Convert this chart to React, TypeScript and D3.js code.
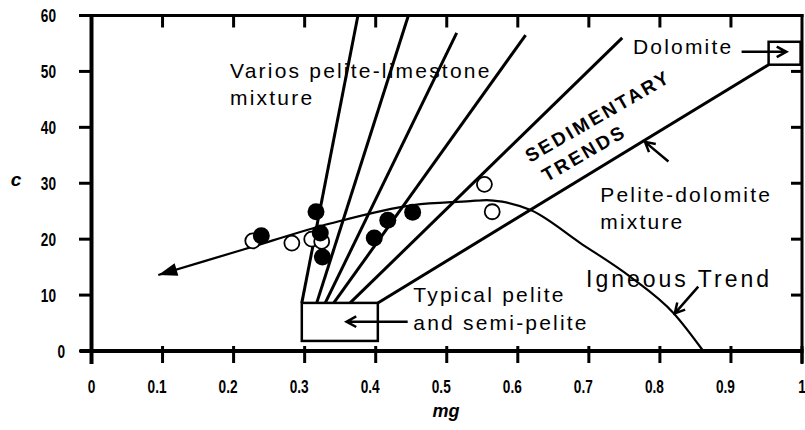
import { useEffect, useRef } from 'react';
import * as d3 from 'd3';

// axis ticks
const xTicks = [0, 0.1, 0.2, 0.3, 0.4, 0.5, 0.6, 0.7, 0.8, 0.9, 1];
const xTickLabels = ['0', '0.1', '0.2', '0.3', '0.4', '0.5', '0.6', '0.7', '0.8', '0.9', '1'];
const yTicks = [0, 10, 20, 30, 40, 50, 60];
const yTickLabels = ['0', '10', '20', '30', '40', '50', '60'];

// samples (filled = one group, open = the other)
const filledMg = [0.239, 0.316, 0.322, 0.325, 0.398, 0.417, 0.452];
const filledC = [20.6, 24.9, 21.1, 16.8, 20.2, 23.4, 24.8];
const openMg = [0.227, 0.282, 0.31, 0.324, 0.553, 0.564];
const openC = [19.7, 19.3, 20.0, 19.6, 29.8, 24.9];

// trend line running into the igneous curve
const trendMg = [0.094, 0.215, 0.336, 0.453, 0.533, 0.556, 0.578, 0.618, 0.688, 0.758, 0.819, 0.861];
const trendC = [13.6, 18.2, 22.8, 26.1, 26.8, 27.0, 26.7, 25.2, 19.3, 13.3, 6.8, 0];

// sedimentary fan: start on top of the pelite box, end up the diagram
const fanStartMg = [0.296, 0.317, 0.329, 0.341, 0.364, 0.403];
const fanStartC = [8.6, 8.6, 8.6, 8.6, 8.6, 8.6];
const fanEndMg = [0.375, 0.446, 0.514, 0.611, 0.747, 0.953];
const fanEndC = [60, 60, 56.9, 56.5, 56.0, 51.2];

// end-member boxes [mg0, mg1, c0, c1]
const peliteBox = [0.296, 0.403, 1.8, 8.6];
const dolomiteBox = [0.953, 0.998, 51.2, 55.3];

const App = () => {
  const svgRef = useRef<SVGSVGElement>(null);

  useEffect(() => {
    const width = 805;
    const height = 430;
    const x = d3.scaleLinear().domain([0, 1]).range([91.5, 802]);
    const y = d3.scaleLinear().domain([0, 60]).range([351, 15.5]);
    const font = 'Liberation Sans, Arial, Helvetica, sans-serif';

    const svg = d3.select(svgRef.current);
    svg.selectAll('*').remove();
    svg.attr('width', width).attr('height', height);
    svg.append('rect').attr('width', width).attr('height', height).attr('fill', '#fff');

    // text labels
    const label = (lines: string[], mg: number, c: number, size = 21, spacing = 2.2, gap = 27) => {
      const t = svg.append('text')
        .attr('font-family', font)
        .attr('font-size', size)
        .attr('letter-spacing', spacing)
        .attr('fill', '#000');
      lines.forEach((s, i) => {
        t.append('tspan').attr('x', x(mg)).attr('y', y(c) + i * gap).text(s);
      });
    };
    label(['Varios pelite-limestone', 'mixture'], 0.195, 48.8);
    label(['Dolomite'], 0.762, 53.1);
    label(['Pelite-dolomite', 'mixture'], 0.716, 26.7);
    label(['Typical pelite', 'and semi-pelite'], 0.453, 8.8, 21, 2.2, 28.3);
    label(['Igneous Trend'], 0.696, 11.5, 23, 3);

    const sed = svg.append('g')
      .attr('transform', `translate(${x(0.617)},${y(33.6)}) rotate(-30)`)
      .attr('font-family', font)
      .attr('font-weight', 'bold')
      .attr('font-size', 19)
      .attr('letter-spacing', 2.6);
    sed.append('text').attr('x', 0).attr('y', 0).text('SEDIMENTARY');
    sed.append('text').attr('x', 5).attr('y', 25).text('TRENDS');

    // fan lines
    fanStartMg.forEach((m, i) => {
      svg.append('line')
        .attr('x1', x(m)).attr('y1', y(fanStartC[i]))
        .attr('x2', x(fanEndMg[i])).attr('y2', y(fanEndC[i]))
        .attr('stroke', '#000').attr('stroke-width', 3);
    });

    // boxes
    [peliteBox, dolomiteBox].forEach(b => {
      svg.append('rect')
        .attr('x', x(b[0])).attr('y', y(b[3]))
        .attr('width', x(b[1]) - x(b[0])).attr('height', y(b[2]) - y(b[3]))
        .attr('fill', '#fff').attr('stroke', '#000').attr('stroke-width', 2.5);
    });

    // trend curve
    const trend = trendMg.map((m, i) => [m, trendC[i]] as [number, number]);
    const line = d3.line<[number, number]>()
      .x(d => x(d[0]))
      .y(d => y(d[1]))
      .curve(d3.curveMonotoneX);
    svg.append('path')
      .attr('d', line(trend))
      .attr('fill', 'none').attr('stroke', '#000').attr('stroke-width', 2.2);

    // filled arrow head at the left end of the trend
    const tip = [x(trend[0][0]), y(trend[0][1])];
    const back = [x(trend[1][0]), y(trend[1][1])];
    const ang = Math.atan2(tip[1] - back[1], tip[0] - back[0]);
    const hl = 19, hw = 6.5;
    const bx = tip[0] - hl * Math.cos(ang), by = tip[1] - hl * Math.sin(ang);
    svg.append('path')
      .attr('d', `M${tip[0]},${tip[1]} L${bx - hw * Math.sin(ang)},${by + hw * Math.cos(ang)} L${bx + hw * Math.sin(ang)},${by - hw * Math.cos(ang)} Z`)
      .attr('fill', '#000');

    // chevron arrows for the annotations
    const arrow = (m1: number, c1: number, m2: number, c2: number) => {
      const x1 = x(m1), y1 = y(c1), x2 = x(m2), y2 = y(c2);
      const a = Math.atan2(y2 - y1, x2 - x1);
      const len = 11, spread = 0.5;
      svg.append('path')
        .attr('d', `M${x1},${y1} L${x2},${y2} M${x2 - len * Math.cos(a - spread)},${y2 - len * Math.sin(a - spread)} L${x2},${y2} L${x2 - len * Math.cos(a + spread)},${y2 - len * Math.sin(a + spread)}`)
        .attr('fill', 'none').attr('stroke', '#000').attr('stroke-width', 2.5)
        .attr('stroke-linejoin', 'miter');
    };
    arrow(0.915, 53.5, 0.978, 53.5);
    arrow(0.445, 5.24, 0.359, 5.24);
    arrow(0.812, 33.9, 0.779, 37.4);
    arrow(0.854, 11.5, 0.821, 6.74);

    // points
    openMg.forEach((m, i) => {
      svg.append('circle')
        .attr('cx', x(m)).attr('cy', y(openC[i])).attr('r', 7.5)
        .attr('fill', '#fff').attr('stroke', '#000').attr('stroke-width', 1.8);
    });
    filledMg.forEach((m, i) => {
      svg.append('circle')
        .attr('cx', x(m)).attr('cy', y(filledC[i])).attr('r', 8.5)
        .attr('fill', '#000');
    });

    // frame and ticks
    const frame = svg.append('g').attr('stroke', '#000').attr('stroke-linecap', 'butt');
    frame.append('line').attr('x1', 80).attr('x2', x(1) + 1.5).attr('y1', y(60)).attr('y2', y(60)).attr('stroke-width', 3);
    frame.append('line').attr('x1', 80).attr('x2', x(1) + 1.5).attr('y1', y(0)).attr('y2', y(0)).attr('stroke-width', 4);
    frame.append('line').attr('x1', x(0)).attr('x2', x(0)).attr('y1', y(60) - 1.5).attr('y2', y(0) + 13).attr('stroke-width', 4);
    frame.append('line').attr('x1', x(1)).attr('x2', x(1)).attr('y1', y(60) - 1.5).attr('y2', y(0) + 13).attr('stroke-width', 3);

    yTicks.forEach(t => {
      frame.append('line').attr('x1', 79).attr('x2', x(0)).attr('y1', y(t)).attr('y2', y(t)).attr('stroke-width', 3);
      if (t > 0 && t < 60) {
        frame.append('line').attr('x1', x(1) - 11).attr('x2', x(1)).attr('y1', y(t)).attr('y2', y(t)).attr('stroke-width', 3);
      }
    });
    xTicks.forEach(t => {
      frame.append('line').attr('x1', x(t)).attr('x2', x(t)).attr('y1', y(0) - 5).attr('y2', y(0) + 12).attr('stroke-width', 3);
      if (t > 0 && t < 1) {
        frame.append('line').attr('x1', x(t)).attr('x2', x(t)).attr('y1', y(60)).attr('y2', y(60) + 12).attr('stroke-width', 3);
      }
    });

    // tick labels (narrow bold); decimal labels sit a little left of their ticks
    xTicks.forEach((t, i) => {
      const shift = t > 0 && t < 1 ? -5.5 : 0;
      svg.append('text')
        .attr('transform', `translate(${x(t) + shift},393) scale(0.78,1)`)
        .attr('text-anchor', 'middle')
        .attr('font-family', font).attr('font-weight', 'bold').attr('font-size', 17.5)
        .text(xTickLabels[i]);
    });
    yTicks.forEach((t, i) => {
      svg.append('text')
        .attr('transform', `translate(${t === 0 ? 65 : 56},${y(t) + 6.5}) scale(0.78,1)`)
        .attr('text-anchor', 'end')
        .attr('font-family', font).attr('font-weight', 'bold').attr('font-size', 17.5)
        .text(yTickLabels[i]);
    });

    // axis titles
    svg.append('text')
      .attr('x', 16).attr('y', 186)
      .attr('text-anchor', 'middle')
      .attr('font-family', font).attr('font-weight', 'bold').attr('font-style', 'italic').attr('font-size', 19)
      .text('c');
    svg.append('text')
      .attr('x', 446).attr('y', 417)
      .attr('text-anchor', 'middle')
      .attr('font-family', font).attr('font-weight', 'bold').attr('font-style', 'italic').attr('font-size', 18)
      .text('mg');
  }, []);

  return <svg ref={svgRef} style={{ position: 'absolute', left: 0, top: 0 }}></svg>;
};

export default App;
